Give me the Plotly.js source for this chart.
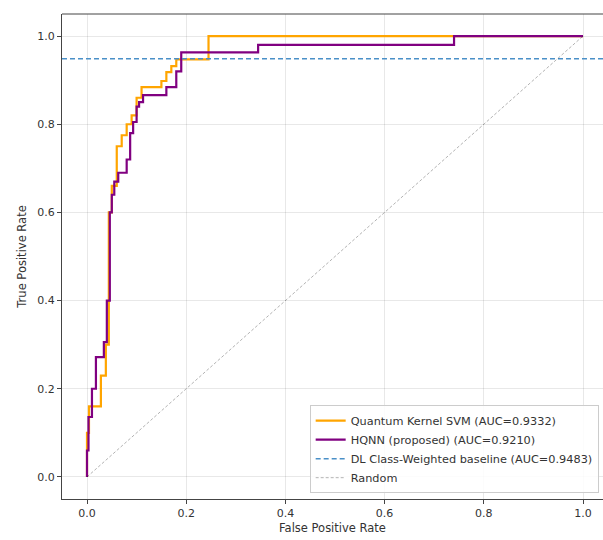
<!DOCTYPE html>
<html>
<head>
<meta charset="utf-8">
<script src="https://cdn.plot.ly/plotly-3.0.1.min.js"></script>
<style>html,body{margin:0;padding:0;background:#fff;}#chart{width:603px;height:540px;}</style>
</head>
<body>
<div id="chart"></div>
<script>
// Quantum Kernel SVM ROC (step points)
const qksvmFpr = [0, 0, 0.004, 0.028, 0.038, 0.044, 0.050, 0.060, 0.070, 0.080, 0.090, 0.100, 0.110, 0.150, 0.160, 0.170, 0.180, 0.245, 1.0];
const qksvmTpr = [0, 0.10, 0.16, 0.23, 0.30, 0.60, 0.66, 0.75, 0.775, 0.80, 0.82, 0.86, 0.884, 0.898, 0.918, 0.932, 0.947, 1.0, 1.0];
// HQNN ROC (step points)
const hqnnFpr = [0, 0, 0.003, 0.010, 0.018, 0.034, 0.040, 0.046, 0.050, 0.055, 0.063, 0.080, 0.087, 0.093, 0.100, 0.105, 0.113, 0.160, 0.180, 0.190, 0.345, 0.740, 1.0];
const hqnnTpr = [0, 0.06, 0.136, 0.20, 0.272, 0.306, 0.40, 0.60, 0.64, 0.67, 0.69, 0.72, 0.78, 0.805, 0.84, 0.85, 0.866, 0.884, 0.92, 0.963, 0.98, 1.0, 1.0];
// DL baseline AUC drawn as horizontal reference
const dlAuc = 0.9483;
const randomX = [0, 1];
const randomY = [0, 1];
const seriesNames = [
  "Quantum Kernel SVM (AUC=0.9332)",
  "HQNN (proposed) (AUC=0.9210)",
  "DL Class-Weighted baseline (AUC=0.9483)",
  "Random"
];

const xRange = [-0.0504, 1.0403];
const yRange = [-0.05, 1.05];

const traces = [
  {x: qksvmFpr, y: qksvmTpr, mode: 'lines', line: {shape: 'hv', color: '#FFA500', width: 2.2}, name: seriesNames[0]},
  {x: hqnnFpr, y: hqnnTpr, mode: 'lines', line: {shape: 'hv', color: '#800080', width: 2.2}, name: seriesNames[1]},
  {x: xRange, y: [dlAuc, dlAuc], mode: 'lines', line: {color: '#4a90c8', width: 1.5, dash: '5px,3px'}, name: seriesNames[2]},
  {x: randomX, y: randomY, mode: 'lines', line: {color: 'rgba(0,0,0,0.3)', width: 1, dash: '3px,2px'}, name: seriesNames[3]}
];

const axisCommon = {
  showgrid: true, gridcolor: 'rgba(0,0,0,0.09)', gridwidth: 1,
  zeroline: false, showline: true, linecolor: '#444', linewidth: 1,
  ticks: 'outside', ticklen: 4, tickcolor: '#444',
  tickfont: {family: 'DejaVu Sans', size: 11, color: '#333'},
  tickformat: '.1f', dtick: 0.2, tick0: 0
};

const layout = {
  width: 603, height: 540,
  margin: {l: 62, r: 0, t: 14, b: 41},
  paper_bgcolor: '#fff', plot_bgcolor: '#fff',
  font: {family: 'DejaVu Sans', size: 11, color: '#333'},
  xaxis: Object.assign({}, axisCommon, {range: xRange, title: {text: 'False Positive Rate', font: {family: 'DejaVu Sans', size: 11.5, color: '#333'}, standoff: 4}}),
  yaxis: Object.assign({}, axisCommon, {range: yRange, title: {text: 'True Positive Rate', font: {family: 'DejaVu Sans', size: 11.5, color: '#333'}, standoff: 8}}),
  showlegend: true,
  legend: {
    x: 0.992, xanchor: 'right', y: 0.012, yanchor: 'bottom',
    bgcolor: 'rgba(255,255,255,0.85)', bordercolor: '#ccc', borderwidth: 1,
    font: {family: 'DejaVu Sans', size: 11.3, color: '#333'},
    tracegroupgap: 0, itemwidth: 30
  },
  shapes: [
    {type: 'line', xref: 'paper', yref: 'paper', x0: 0, x1: 1, y0: 1, y1: 1, line: {color: '#444', width: 1}}
  ]
};

Plotly.newPlot('chart', traces, layout, {displayModeBar: false, staticPlot: true});
</script>
</body>
</html>
